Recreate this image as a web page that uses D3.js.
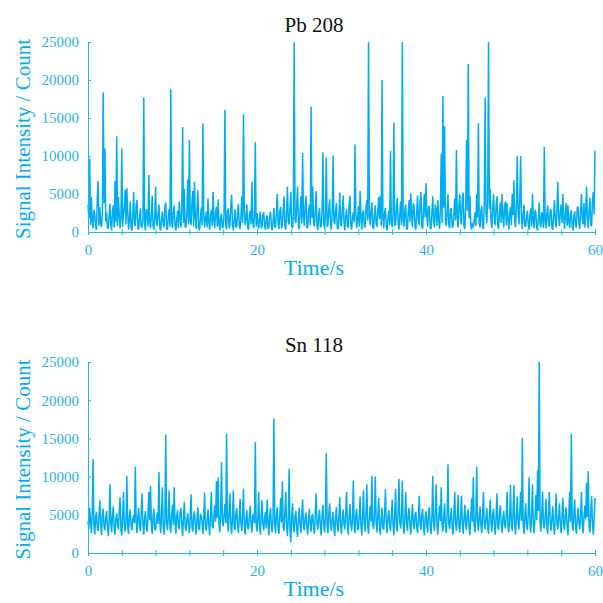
<!DOCTYPE html>
<html>
<head>
<meta charset="utf-8">
<script src="https://cdn.jsdelivr.net/npm/d3@7"></script>
<style>
  body { margin: 0; background: #fff; }
  svg { display: block; }
</style>
</head>
<body>
<svg id="graph" width="603" height="603"></svg>
<script>
  var svg = d3.select("#graph");
  var blue = "#00AEEF";
  var tickBlue = "#29B2EA";

  // sampling interval of the recorded signal (s)
  var sampleInterval = 0.1;
  var xTicks = [0, 4, 8, 12, 16, 20, 24, 28, 32, 36, 40, 44, 48, 52, 56, 60];
  var xLabels = [0, 20, 40, 60];
  var yTicks = [0, 5000, 10000, 15000, 20000, 25000];
  var titles = ["Pb 208", "Sn 118"];

  // Pb 208 counts, one value per 0.1 s (each row = 2 s)
  var pbCounts = [
    3600, 1800, 9700, 900, 4600, 1500, 500, 2900, 2400, 700, 300, 4500, 6700, 800, 3300, 1200, 600, 2500, 18400, 3800,
    11000, 1400, 2600, 600, 400, 2100, 3700, 900, 200, 2800, 3500, 600, 6700, 1300, 12600, 800, 4600, 2400, 500, 1900,
    11000, 700, 2100, 3300, 5600, 1000, 5800, 2600, 300, 1700, 4000, 500, 200, 2300, 5300, 1100, 800, 3600, 4200, 400,
    400, 2000, 3100, 600, 700, 1500, 17700, 900, 200, 3000, 2500, 700, 7500, 1400, 500, 2200, 4800, 800, 300, 1900,
    6000, 1100, 800, 2500, 3600, 500, 200, 1800, 2700, 900, 600, 3400, 3900, 400, 300, 2100, 3000, 700, 18800, 1300,
    500, 2700, 3500, 800, 200, 1600, 2800, 500, 4000, 1900, 600, 3100, 13800, 1200, 5700, 600, 700, 2400, 6900, 1000,
    12100, 1500, 900, 3800, 5400, 700, 6600, 2000, 400, 2900, 5500, 600, 200, 1700, 3200, 900, 14300, 2300, 600, 1800,
    2700, 600, 4400, 1300, 300, 2300, 2900, 800, 5300, 1600, 500, 2600, 3300, 700, 4300, 1100, 200, 1900, 2400, 500,
    700, 2200, 16100, 1000, 300, 2700, 3100, 500, 800, 3400, 4900, 900, 200, 1600, 3000, 700, 600, 2500, 3700, 800,
    400, 2100, 4700, 1200, 15500, 2600, 900, 1800, 3600, 500, 300, 2300, 2800, 1000, 6600, 1400, 500, 2000, 11800, 700,
    2500, 1200, 400, 1900, 2700, 500, 700, 2300, 2600, 800, 300, 1700, 2200, 400, 600, 2000, 2700, 900, 200, 1500,
    3200, 600, 700, 2400, 5000, 1100, 400, 2800, 3300, 500, 900, 3000, 4700, 800, 300, 2600, 6000, 1300, 1000, 3100,
    5300, 900, 500, 2400, 25000, 1600, 1200, 3500, 6000, 700, 400, 2900, 4700, 1100, 10400, 2000, 800, 3300, 4800, 600,
    500, 2600, 3600, 900, 16500, 1800, 6000, 1200, 700, 3000, 5400, 800, 300, 2200, 3200, 600, 800, 2700, 10500, 1100,
    400, 2300, 9800, 700, 900, 3100, 4300, 1000, 300, 2500, 10100, 1400, 1000, 2800, 3800, 500, 400, 2100, 5200, 900,
    800, 3000, 4800, 1200, 200, 2200, 3000, 700, 600, 3600, 4800, 900, 300, 1900, 2600, 1300, 11500, 2400, 500, 1600,
    3400, 700, 5400, 2000, 300, 2500, 2900, 600, 700, 3300, 4200, 1500, 25000, 2100, 900, 2800, 3900, 600, 400, 2300,
    3500, 1100, 700, 2900, 4600, 1700, 4800, 800, 20000, 1900, 500, 2600, 3200, 700, 200, 1800, 2800, 900, 10700, 1400,
    600, 2300, 14400, 800, 1000, 3000, 4500, 1200, 300, 2400, 4000, 900, 25000, 1600, 700, 2900, 3600, 500, 300, 2700,
    4200, 1300, 5100, 2200, 600, 3800, 3300, 700, 300, 2600, 4800, 1500, 900, 4100, 5300, 800, 400, 3000, 5000, 1900,
    6400, 2100, 700, 3300, 3400, 500, 400, 2500, 4700, 1400, 600, 3600, 2800, 800, 4200, 1700, 400, 2900, 10300, 1200,
    17900, 3200, 13900, 1400, 800, 2700, 5000, 900, 500, 3100, 3000, 600, 700, 2300, 4400, 1500, 10800, 2000, 600, 3500,
    5000, 1600, 1000, 4500, 5200, 700, 400, 3300, 12100, 2800, 22100, 1800, 4800, 1000, 300, 1200, 600, 1500, 2600, 800,
    5000, 1900, 14300, 1100, 600, 2800, 3400, 700, 400, 3900, 17700, 2400, 1200, 4600, 25000, 3000, 5700, 1300, 500, 3200,
    5000, 1400, 900, 3600, 4700, 800, 400, 2700, 3900, 1200, 5000, 2100, 600, 3400, 4000, 900, 3800, 1600, 300, 2500,
    3300, 900, 5000, 2200, 6800, 1500, 600, 3700, 10000, 2600, 1000, 4300, 10000, 1800, 400, 2400, 3600, 800, 700, 2000,
    2800, 1000, 300, 2300, 3100, 700, 5000, 1600, 500, 2900, 2600, 600, 200, 1900, 3900, 1100, 600, 2600, 2200, 500,
    11200, 1500, 500, 2400, 3500, 900, 700, 3000, 2900, 600, 300, 2200, 4200, 1300, 600, 3100, 6600, 1700, 800, 2800,
    3600, 1200, 5000, 1900, 400, 2600, 3800, 800, 3500, 1400, 500, 2300, 2900, 700, 200, 2000, 2700, 900, 600, 3200,
    3300, 1100, 400, 2700, 5000, 1500, 1000, 3800, 600, 2500, 6000, 1800, 500, 3000, 4500, 900, 800, 4200, 5300, 2300,
    10700
  ];

  // Sn 118 counts, one value per 0.1 s (each row = 2 s)
  var snCounts = [
    4200, 3100, 5900, 4400, 2600, 5200, 12300, 3600, 2400, 4700, 5400, 3300, 2900, 4900, 6900, 3800, 2300, 5100, 5800, 3500,
    3000, 4600, 5500, 3400, 2200, 4300, 9000, 3900, 2700, 5000, 6100, 3200, 2400, 4500, 5200, 3700, 3100, 5600, 7300, 3000,
    2300, 4800, 8000, 3500, 2800, 4200, 10100, 3300, 2500, 4900, 5700, 3600, 3000, 4400, 5000, 3900, 11300, 4100, 2600, 4700,
    5900, 3400, 2900, 5300, 7800, 3700, 2400, 4600, 5500, 3200, 2800, 5000, 8000, 4300, 8800, 3600, 2500, 4800, 5800, 3100,
    3000, 4500, 5300, 3800, 10600, 4000, 2600, 5100, 8600, 3500, 2400, 4400, 15500, 3900, 3000, 4700, 8200, 3300, 2700, 5000,
    6300, 3600, 8600, 4200, 2500, 4900, 5600, 3400, 3100, 5300, 5900, 3800, 2200, 4600, 6700, 3500, 2900, 4300, 5200, 3700,
    2600, 5000, 7700, 3300, 2800, 4700, 5500, 3600, 2400, 4500, 6000, 3200, 3000, 5100, 4900, 3900, 2500, 4800, 7900, 3400,
    2900, 4400, 5700, 3700, 2300, 5200, 8000, 3500, 3200, 4900, 6200, 4100, 9400, 4600, 9900, 3800, 2700, 5300, 11900, 4000,
    3500, 5000, 6400, 3900, 15600, 4300, 2800, 5400, 7800, 3600, 2500, 4700, 8200, 3400, 3000, 5200, 5900, 3700, 2600, 4600,
    7100, 3800, 2900, 4800, 8400, 3500, 2400, 4400, 5600, 3300, 3100, 5000, 6200, 3600, 2700, 4900, 5100, 3900, 14500, 3700,
    2800, 4600, 8000, 3400, 2400, 5100, 6900, 3800, 3000, 4500, 5400, 3200, 7000, 4200, 2300, 4700, 5900, 3500, 2700, 4900,
    17600, 3600, 2600, 5000, 6000, 3300, 2500, 4800, 7200, 4000, 9400, 3500, 2900, 5300, 8000, 3700, 2200, 4500, 11000, 3200,
    1400, 4600, 6500, 3400, 2700, 4900, 5500, 3100, 2100, 4400, 5900, 3700, 2600, 5000, 7000, 3500, 3000, 4700, 5300, 3300,
    2400, 4500, 5800, 3600, 2800, 4800, 5100, 3200, 2500, 5200, 7800, 3900, 3100, 4600, 5700, 3400, 2300, 4900, 6300, 3700,
    2700, 4700, 13100, 3500, 2600, 5100, 6500, 3800, 2900, 4400, 5400, 3300, 2200, 4800, 6000, 3600, 2800, 5000, 7300, 3400,
    2500, 4600, 5700, 3700, 3100, 5300, 8000, 3500, 2400, 4800, 6400, 3900, 2900, 4500, 9500, 3600, 2600, 5000, 5800, 3200,
    3000, 4900, 7400, 3600, 2300, 4700, 8200, 3800, 2800, 5200, 9000, 3400, 2500, 4600, 6200, 4100, 10100, 3700, 3100, 5000,
    10000, 3900, 2700, 5100, 7200, 3500, 2400, 4500, 5900, 3300, 3000, 5200, 8300, 3800, 2600, 4700, 5600, 3600, 2900, 4900,
    7000, 3700, 2300, 5000, 8400, 3400, 2800, 5400, 9700, 4000, 3200, 4800, 9500, 3600, 2500, 4600, 8000, 3900, 2900, 5100,
    5900, 3500, 2400, 4700, 6400, 3800, 3100, 5000, 5400, 3300, 2600, 4500, 7500, 3700, 3000, 4900, 5800, 3400, 2300, 4600,
    5500, 3600, 2700, 5200, 6000, 3400, 2500, 4800, 10100, 3900, 2900, 5300, 9000, 3500, 2400, 4700, 6200, 4200, 8600, 3800,
    2800, 4800, 6500, 3500, 2600, 5100, 11600, 3700, 3100, 4600, 5900, 3300, 2400, 5000, 8000, 3900, 2900, 4700, 7600, 3400,
    2700, 4900, 7500, 3600, 2500, 4600, 6300, 3800, 3000, 5200, 5700, 3400, 2300, 4800, 7200, 4100, 9900, 3700, 2700, 5000,
    11300, 3900, 2900, 4700, 6100, 3500, 2600, 5100, 8000, 3700, 3100, 4600, 5900, 3300, 2500, 4900, 7000, 3800, 2800, 5200,
    5800, 3600, 2400, 4800, 7800, 3400, 3000, 5300, 6200, 3900, 2600, 4500, 5500, 3700, 3200, 5000, 8000, 3500, 2700, 4700,
    8900, 3800, 2900, 5100, 8900, 3600, 2400, 4900, 7400, 4000, 3100, 5400, 8000, 4200, 15100, 3700, 2500, 4800, 6500, 3500,
    3000, 5200, 9900, 3800, 2700, 5000, 9000, 3600, 2600, 4700, 7600, 4300, 10800, 5500, 25000, 4000, 2800, 5100, 8000, 3700,
    3200, 4900, 7100, 3500, 2500, 5300, 8000, 3900, 2900, 4600, 6100, 3400, 2400, 5000, 7800, 3800, 3100, 4700, 6500, 3600,
    2600, 4800, 7200, 3700, 3000, 5100, 6000, 3500, 2300, 4900, 8000, 4100, 15600, 3800, 2900, 5200, 7000, 3400, 2500, 4600,
    5900, 3900, 3100, 5000, 8000, 3600, 2600, 4800, 6200, 4400, 9200, 4700, 10700, 3500, 2700, 5100, 7500, 3800, 2400, 4500,
    7200
  ];

  var x = d3.scaleLinear().domain([0, 60]).range([88, 595]);

  function panel(counts, title, top, bottom) {
    var y = d3.scaleLinear().domain([0, 25000]).range([bottom, top]);
    var g = svg.append("g");

    // signal trace
    var line = d3.line()
      .x(function(d, i) { return x(i * sampleInterval); })
      .y(function(d) { return y(d); });
    g.append("path")
      .datum(counts)
      .attr("d", line)
      .attr("fill", "none")
      .attr("stroke", blue)
      .attr("stroke-width", 1.5)
      .attr("stroke-linejoin", "bevel");

    // x axis, ticks cross the line
    var xa = g.append("g")
      .attr("transform", "translate(0," + bottom + ")")
      .call(d3.axisBottom(x).tickValues(xTicks).tickSizeOuter(0)
        .tickFormat(function(d) { return xLabels.indexOf(d) >= 0 ? d : ""; }));
    xa.select(".domain").attr("stroke", tickBlue);
    xa.selectAll(".tick line").attr("stroke", tickBlue).attr("y1", -3).attr("y2", 3);
    xa.selectAll(".tick text").attr("y", 12)
      .attr("fill", tickBlue).style("font-family", "Liberation Serif").style("font-size", "15px");

    // y axis, ticks inward
    var ya = g.append("g")
      .attr("transform", "translate(88,0)")
      .call(d3.axisLeft(y).tickValues(yTicks).tickFormat(d3.format("d"))
        .tickSizeInner(-3).tickSizeOuter(0).tickPadding(9));
    ya.select(".domain").attr("stroke", tickBlue);
    ya.selectAll(".tick line").attr("stroke", tickBlue);
    ya.selectAll(".tick text")
      .attr("fill", tickBlue).style("font-family", "Liberation Serif").style("font-size", "15px");

    g.append("text").text(title)
      .attr("x", 314).attr("y", top - 10)
      .attr("text-anchor", "middle")
      .style("font-family", "Liberation Serif").style("font-size", "21px")
      .attr("fill", "#111");

    g.append("text").text("Time/s")
      .attr("x", 314).attr("y", bottom + 43)
      .attr("text-anchor", "middle")
      .style("font-family", "Liberation Serif").style("font-size", "22px")
      .attr("fill", blue);

    g.append("text").text("Signal Intensity / Count")
      .attr("transform", "translate(30," + ((top + bottom) / 2 + 2) + ") rotate(-90)")
      .attr("text-anchor", "middle")
      .style("font-family", "Liberation Serif").style("font-size", "21px")
      .attr("fill", blue);
  }

  panel(pbCounts, titles[0], 42, 232);
  panel(snCounts, titles[1], 362, 553);
</script>
</body>
</html>
